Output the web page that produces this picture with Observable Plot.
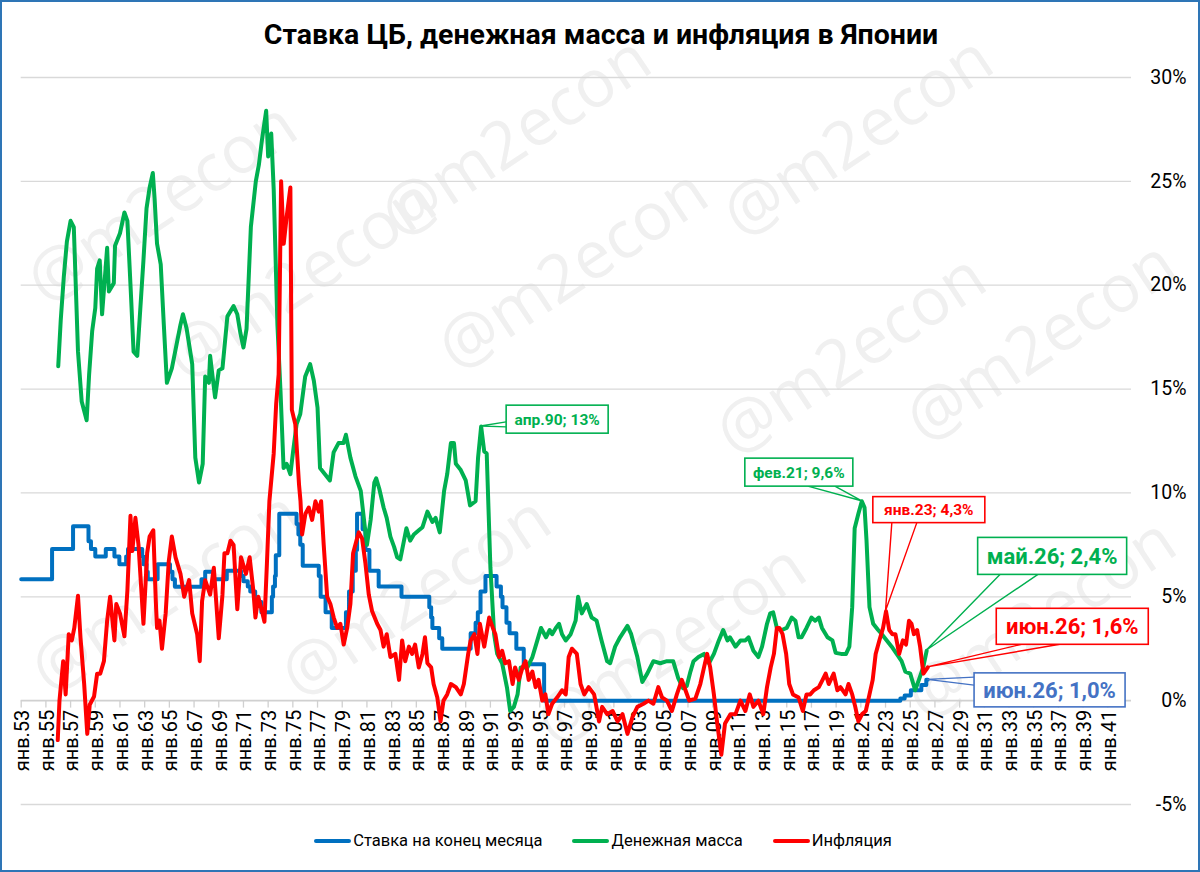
<!DOCTYPE html>
<html>
<head>
<meta charset="utf-8">
<script src="https://cdn.jsdelivr.net/npm/d3@7"></script>
<script src="https://cdn.jsdelivr.net/npm/@observablehq/plot@0.6"></script>
<style>
  html, body { margin: 0; padding: 0; background: #fff; }
  #wrap { position: relative; width: 1200px; height: 872px; background: #fff; overflow: hidden; font-family: Roboto, "Noto Sans", sans-serif; }
  #wm, #chart { position: absolute; left: 0; top: 0; }
  #title { position: absolute; left: 0; top: 18px; width: 1202px; text-align: center; font-weight: 700; font-size: 28.5px; color: #000; }
  #legend { position: absolute; left: 0; top: 831px; width: 1206px; display: flex; justify-content: center; align-items: center; font-size: 16.5px; color: #000; }
  #legend .item { display: flex; align-items: center; margin: 0 15px; }
  #legend .sw { width: 37px; height: 4px; border-radius: 2px; margin-right: 2px; }
  #border { position: absolute; left: 0; top: 0; width: 1200px; height: 872px; box-sizing: border-box; border: 2px solid #2E75B6; pointer-events: none; }
</style>
</head>
<body>
<div id="wrap">
  <svg id="wm" width="1200" height="872"></svg>
  <div id="chart"></div>
  <div id="title">Ставка ЦБ, денежная масса и инфляция в Японии</div>
  <div id="legend">
    <div class="item"><div class="sw" style="background:#0070C0"></div>Ставка на конец месяца</div>
    <div class="item"><div class="sw" style="background:#00B050"></div>Денежная масса</div>
    <div class="item"><div class="sw" style="background:#FF0000"></div>Инфляция</div>
  </div>
  <div id="border"></div>
</div>
<script>
// ---- Data (decimal year, percent) ----
const xTicks = d3.range(1953, 2042, 2);
const yTicks = [-5, 0, 5, 10, 15, 20, 25, 30];

// Central bank rate at month end
const rateSeries = [
  [1953.0,5.84],[1955.5,7.30],[1957.2,8.40],[1958.45,7.67],[1958.65,7.30],[1959.0,6.94],[1959.85,7.30],
  [1960.55,6.94],[1960.95,6.57],[1961.5,6.94],[1961.65,7.30],[1962.8,6.94],[1962.9,6.57],[1963.15,6.21],
  [1963.25,5.84],[1964.05,6.57],[1965.05,6.21],[1965.25,5.84],[1965.45,5.48],[1967.6,5.84],[1967.9,6.21],
  [1968.55,5.84],[1969.65,6.25],[1970.8,6.00],[1971.0,5.75],[1971.35,5.50],[1971.55,5.25],[1971.95,4.75],
  [1972.45,4.25],[1973.3,5.00],[1973.4,5.50],[1973.55,6.00],[1973.62,7.00],[1973.9,9.00],[1975.3,8.50],
  [1975.45,8.00],[1975.6,7.50],[1975.8,6.50],[1977.1,6.00],[1977.25,5.00],[1977.65,4.25],[1978.15,3.50],
  [1979.3,4.25],[1979.55,5.25],[1979.85,6.25],[1980.1,7.25],[1980.2,9.00],[1980.65,8.25],[1980.88,7.25],
  [1981.2,6.25],[1981.95,5.50],[1983.8,5.00],[1986.05,4.50],[1986.2,4.00],[1986.3,3.50],[1986.85,3.00],
  [1987.1,2.50],[1989.4,3.25],[1989.8,3.75],[1989.98,4.25],[1990.2,5.25],[1990.6,6.00],[1991.5,5.50],
  [1991.85,5.00],[1991.98,4.50],[1992.3,3.75],[1992.55,3.25],[1993.1,2.50],[1993.7,1.75],[1995.35,0.0],
  [2024.2,0.10],[2024.55,0.25],[2025.05,0.50],[2025.9,0.75],[2026.3,1.00],[2026.42,1.00]
];

// Money supply growth
const moneySeries = [
  [1956.0,16.1],[1956.2,18.3],[1956.45,20.4],[1956.7,22.1],[1957.0,23.1],[1957.26,22.8],[1957.6,16.8],
  [1957.9,14.4],[1958.3,13.5],[1958.5,15.7],[1958.75,17.8],[1959.0,18.9],[1959.15,20.8],[1959.36,21.2],
  [1959.55,18.6],[1959.96,21.8],[1960.1,19.7],[1960.5,20.1],[1960.6,21.9],[1961.0,22.5],[1961.36,23.5],
  [1961.6,23.1],[1961.9,19.4],[1962.1,16.8],[1962.4,16.6],[1962.9,21.2],[1963.15,23.7],[1963.4,24.7],
  [1963.66,25.4],[1963.8,24.2],[1964.0,22.0],[1964.3,21.0],[1964.55,18.1],[1964.8,15.3],[1965.2,16.0],
  [1965.6,17.2],[1965.9,18.1],[1966.1,18.6],[1966.4,17.9],[1966.85,16.2],[1967.1,11.7],[1967.4,10.5],
  [1967.7,11.4],[1967.9,15.6],[1968.2,15.3],[1968.3,16.6],[1968.7,14.6],[1969.0,15.9],[1969.3,16.0],
  [1969.7,18.5],[1970.2,19.0],[1970.5,18.6],[1970.75,17.7],[1971.0,17.0],[1971.25,17.9],[1971.6,22.8],
  [1972.0,25.0],[1972.25,25.8],[1972.5,27.0],[1972.84,28.4],[1973.0,26.2],[1973.25,27.3],[1973.45,24.6],
  [1973.75,18.1],[1974.0,14.9],[1974.25,11.2],[1974.5,11.4],[1974.8,10.9],[1975.0,11.9],[1975.3,13.3],
  [1975.6,13.8],[1976.0,15.6],[1976.4,16.2],[1976.7,15.4],[1977.0,14.1],[1977.2,11.2],[1977.6,10.9],
  [1978.0,10.6],[1978.3,11.95],[1978.7,12.4],[1979.1,12.4],[1979.3,12.8],[1979.66,11.7],[1980.07,10.8],
  [1980.5,10.1],[1980.8,8.5],[1981.0,7.5],[1981.3,8.7],[1981.6,10.5],[1981.75,10.7],[1982.0,10.2],
  [1982.35,9.3],[1982.6,8.8],[1982.9,7.9],[1983.2,7.4],[1983.45,6.9],[1983.7,6.8],[1984.0,7.7],
  [1984.2,8.3],[1984.5,7.7],[1984.8,8.0],[1985.2,8.2],[1985.5,8.35],[1985.9,9.1],[1986.3,8.6],
  [1986.56,8.8],[1986.9,8.1],[1987.25,10.1],[1987.5,10.9],[1987.8,12.4],[1988.05,12.4],[1988.2,11.4],
  [1988.6,11.1],[1989.0,10.6],[1989.35,9.4],[1989.8,9.6],[1990.0,11.7],[1990.25,13.2],[1990.5,12.0],
  [1990.7,11.9],[1991.0,6.4],[1991.3,3.2],[1991.55,2.25],[1991.95,1.8],[1992.35,0.6],[1992.6,-0.5],
  [1992.9,-0.3],[1993.2,0.3],[1993.45,1.6],[1994.0,1.6],[1994.4,2.1],[1994.8,2.9],[1995.1,3.5],
  [1995.5,3.05],[1995.8,3.4],[1996.0,3.2],[1996.3,3.5],[1996.56,3.7],[1996.8,3.2],[1997.1,2.9],
  [1997.5,3.2],[1997.9,3.85],[1998.1,5.0],[1998.4,4.2],[1998.8,4.65],[1999.2,4.0],[1999.6,3.85],
  [2000.0,2.9],[2000.45,1.9],[2000.7,1.8],[2001.1,2.6],[2001.5,3.05],[2002.1,3.6],[2002.4,3.2],
  [2002.9,2.1],[2003.3,0.9],[2003.7,1.3],[2004.2,1.9],[2004.75,1.8],[2005.3,1.9],[2005.8,1.9],
  [2006.2,1.1],[2006.6,0.6],[2006.9,0.7],[2007.2,1.4],[2007.45,1.9],[2007.85,2.1],[2008.3,2.25],
  [2008.7,1.8],[2009.1,2.25],[2009.5,2.9],[2009.85,3.4],[2010.2,2.9],[2010.4,3.05],[2010.85,2.6],
  [2011.25,2.9],[2011.65,2.9],[2011.9,3.05],[2012.3,2.4],[2012.7,2.1],[2013.0,2.6],[2013.4,3.7],
  [2013.66,4.2],[2013.9,4.25],[2014.2,3.5],[2014.6,3.4],[2015.0,3.5],[2015.4,4.0],[2015.7,3.85],
  [2015.96,3.05],[2016.2,3.05],[2016.6,3.5],[2017.0,4.0],[2017.3,3.85],[2017.6,4.0],[2017.85,3.5],
  [2018.3,3.05],[2018.7,2.9],[2018.96,2.3],[2019.4,2.25],[2019.8,2.25],[2020.07,2.6],[2020.3,4.5],
  [2020.5,8.3],[2020.8,9.0],[2021.08,9.6],[2021.3,9.3],[2021.46,7.7],[2021.7,4.5],[2022.0,3.7],
  [2022.4,3.4],[2022.7,3.2],[2023.1,2.9],[2023.5,2.6],[2023.9,2.25],[2024.3,1.9],[2024.6,1.4],
  [2025.0,1.3],[2025.4,0.5],[2025.7,1.0],[2026.05,1.6],[2026.33,2.4]
];

// Inflation
const inflationSeries = [
  [1955.96,-1.9],[1956.1,0.0],[1956.4,1.9],[1956.6,0.3],[1956.85,3.2],[1957.1,2.9],[1957.3,3.5],
  [1957.6,5.05],[1957.8,3.05],[1958.1,0.8],[1958.35,-1.6],[1958.55,-0.2],[1958.9,0.2],[1959.15,1.3],
  [1959.4,1.3],[1959.7,1.9],[1959.96,3.85],[1960.2,5.0],[1960.55,2.9],[1960.7,4.65],[1961.0,4.2],
  [1961.36,3.1],[1961.6,5.3],[1961.85,8.9],[1962.0,7.2],[1962.25,8.8],[1962.5,7.5],[1962.9,3.7],
  [1963.2,7.1],[1963.4,7.9],[1963.7,8.2],[1963.9,4.8],[1964.0,3.5],[1964.2,3.85],[1964.4,2.5],
  [1964.7,4.2],[1964.95,6.7],[1965.2,7.9],[1965.5,6.9],[1965.9,6.1],[1966.2,5.0],[1966.6,5.8],
  [1966.85,4.2],[1967.25,3.2],[1967.46,1.9],[1967.65,4.8],[1967.9,5.8],[1968.3,5.1],[1968.6,6.4],
  [1969.0,3.0],[1969.3,5.1],[1969.46,7.1],[1969.7,7.1],[1969.95,7.7],[1970.2,7.5],[1970.5,4.4],
  [1970.8,6.9],[1971.2,6.1],[1971.5,6.9],[1971.8,5.3],[1971.97,4.0],[1972.2,5.0],[1972.5,4.3],
  [1972.7,3.8],[1972.9,6.6],[1973.1,9.6],[1973.45,11.9],[1973.65,14.3],[1973.85,15.7],[1974.05,25.0],
  [1974.26,22.0],[1974.5,23.3],[1974.8,24.7],[1974.92,14.0],[1975.2,13.3],[1975.5,10.4],[1975.62,9.6],
  [1975.75,8.0],[1976.02,9.0],[1976.29,9.3],[1976.56,8.7],[1976.83,9.6],[1977.1,9.1],[1977.29,9.6],
  [1977.5,7.5],[1977.78,5.0],[1978.04,4.65],[1978.31,4.0],[1978.59,3.5],[1978.85,3.7],[1979.12,2.7],
  [1979.4,3.5],[1979.66,4.65],[1979.88,7.1],[1980.15,7.7],[1980.34,8.1],[1980.61,7.8],[1980.88,6.6],
  [1981.15,5.1],[1981.42,4.3],[1981.83,3.7],[1982.1,3.4],[1982.35,2.6],[1982.6,3.2],[1982.9,2.1],
  [1983.3,2.25],[1983.6,1.0],[1983.85,2.9],[1984.1,1.9],[1984.4,2.6],[1984.66,2.25],[1984.9,2.7],
  [1985.2,1.6],[1985.5,2.25],[1985.7,3.05],[1985.9,1.8],[1986.2,1.6],[1986.4,0.8],[1986.7,0.15],
  [1986.96,-1.0],[1987.2,0.0],[1987.5,0.3],[1987.8,0.8],[1988.2,0.65],[1988.6,0.3],[1988.85,0.8],
  [1989.2,2.25],[1989.4,2.9],[1989.7,3.2],[1989.95,2.25],[1990.15,3.7],[1990.5,2.6],[1990.9,4.0],
  [1991.2,3.5],[1991.4,3.2],[1991.7,2.1],[1991.95,2.4],[1992.2,1.8],[1992.5,1.9],[1992.8,0.8],
  [1993.0,1.6],[1993.3,1.0],[1993.6,1.6],[1993.85,1.9],[1994.1,1.0],[1994.4,1.4],[1994.66,0.65],
  [1994.9,1.0],[1995.2,0.0],[1995.45,0.3],[1995.7,-0.65],[1996.0,-0.15],[1996.4,0.15],[1996.8,0.5],
  [1997.1,0.3],[1997.34,2.1],[1997.6,2.5],[1998.0,2.25],[1998.3,0.8],[1998.6,0.3],[1998.96,0.65],
  [1999.4,0.3],[1999.8,-1.0],[2000.05,-0.3],[2000.45,-0.65],[2000.9,-0.5],[2001.3,-1.0],[2001.7,-0.65],
  [2002.1,-1.6],[2002.5,-0.8],[2002.9,-0.3],[2003.4,-0.15],[2003.8,0.0],[2004.2,-0.15],[2004.6,0.65],
  [2004.9,0.15],[2005.3,0.0],[2005.7,-0.5],[2006.1,0.3],[2006.5,1.0],[2006.8,0.5],[2007.1,0.0],
  [2007.6,0.1],[2008.0,0.8],[2008.3,1.6],[2008.55,2.25],[2008.8,1.6],[2009.1,0.3],[2009.35,-1.0],
  [2009.7,-2.6],[2010.0,-1.1],[2010.45,-0.65],[2010.85,-0.65],[2011.25,0.0],[2011.65,-0.5],[2012.0,0.3],
  [2012.3,-0.3],[2012.7,0.0],[2013.1,-0.65],[2013.4,0.65],[2013.7,1.6],[2013.96,2.25],[2014.2,3.5],
  [2014.4,3.5],[2014.66,3.2],[2014.95,2.25],[2015.2,0.8],[2015.5,0.3],[2015.96,0.15],[2016.3,-0.5],
  [2016.6,0.3],[2016.9,0.3],[2017.2,0.5],[2017.6,0.65],[2017.9,1.0],[2018.15,1.3],[2018.4,0.8],
  [2018.8,1.3],[2019.1,0.5],[2019.35,0.65],[2019.76,0.3],[2020.0,0.8],[2020.3,0.3],[2020.55,-0.3],
  [2020.8,-1.0],[2021.1,-0.65],[2021.4,-0.5],[2021.7,0.3],[2021.96,1.0],[2022.2,2.25],[2022.5,2.9],
  [2022.8,3.5],[2023.04,4.3],[2023.3,3.4],[2023.56,3.2],[2023.8,3.2],[2024.1,2.25],[2024.4,2.9],
  [2024.66,2.7],[2024.9,3.85],[2025.1,3.7],[2025.3,3.2],[2025.56,3.4],[2025.8,2.6],[2026.07,1.3],
  [2026.42,1.6]
];

// Annotated points
const annotations = [
  {date: 1990.25, value: 13.2, label: "апр.90; 13%", color: "#00B050"},
  {date: 2021.08, value: 9.6, label: "фев.21; 9,6%", color: "#00B050"},
  {date: 2023.04, value: 4.3, label: "янв.23; 4,3%", color: "#FF0000"},
  {date: 2026.33, value: 2.4, label: "май.26; 2,4%", color: "#00B050"},
  {date: 2026.42, value: 1.6, label: "июн.26; 1,6%", color: "#FF0000"},
  {date: 2026.42, value: 1.0, label: "июн.26; 1,0%", color: "#4472C4"}
];
// Layout of callouts (pixel offsets from the point): box centre, size, font, leader ends
const calloutLayout = [
  {dx: 76.5, dy: -6.8, w: 102, h: 28, fs: 15.5, l1: [-51, 2.7], l2: [-51, 7.7]},
  {dx: -62.5, dy: -28.6, w: 108, h: 28, fs: 15.5, l1: [9, 14], l2: [36, 14]},
  {dx: 43.3, dy: -101.2, w: 112, h: 26, fs: 15.5, l1: [-37, 13], l2: [-12, 13]},
  {dx: 126, dy: -94.4, w: 149, h: 37, fs: 22, l1: [-52.2, 18.5], l2: [-14.2, 18.5]},
  {dx: 145, dy: -40.6, w: 152, h: 36, fs: 22, l1: [-50.8, 18], l2: [-12.5, 18]},
  {dx: 122.3, dy: 10.5, w: 151, h: 34, fs: 22, l1: [-75.5, -12.7], l2: [-75.5, -4.7]}
];

const X = d => d[0], Y = d => d[1];
const chart = Plot.plot({
  width: 1200,
  height: 872,
  marginLeft: 20.7,
  marginRight: 69,
  marginTop: 77,
  marginBottom: 68,
  style: {background: "transparent", fontFamily: "Roboto, 'Noto Sans', sans-serif", overflow: "visible"},
  x: {type: "linear", domain: [1953, 2042.92], axis: null},
  y: {domain: [-5, 30], axis: null},
  marks: [
    Plot.ruleY(yTicks.filter(d => d !== 0), {stroke: "#d9d9d9", strokeWidth: 1.3}),
    Plot.ruleY([0], {stroke: "#d0d0d0", strokeWidth: 1.6}),
    Plot.ruleX(xTicks, {x: d => d, y1: 0, y2: -0.36, stroke: "#d0d0d0", strokeWidth: 1.3}),
    Plot.text(xTicks, {x: d => d, y: 0, text: d => "янв." + String(d % 100).padStart(2, "0"),
      rotate: -90, textAnchor: "end", lineAnchor: "middle", dy: 9, dx: 1.5, fontSize: 20, fill: "#000"}),
    Plot.text(yTicks, {y: d => d, text: d => `${d}%`, frameAnchor: "right", textAnchor: "end",
      lineAnchor: "middle", dx: 55, fontSize: 19.5, fill: "#000"}),
    Plot.line(rateSeries, {x: X, y: Y, curve: "step-after", stroke: "#0070C0", strokeWidth: 4, strokeLinejoin: "round"}),
    Plot.line(moneySeries, {x: X, y: Y, stroke: "#00B050", strokeWidth: 4, strokeLinejoin: "round", strokeLinecap: "round"}),
    Plot.line(inflationSeries, {x: X, y: Y, stroke: "#FF0000", strokeWidth: 4, strokeLinejoin: "round", strokeLinecap: "round"})
  ]
});
document.getElementById("chart").appendChild(chart);

// Callouts drawn with the plot's own scales
const sx = chart.scale("x"), sy = chart.scale("y");
const svg = d3.select(chart);
const g = svg.append("g").attr("class", "callouts");
annotations.forEach((a, i) => {
  const L = calloutLayout[i];
  const px = sx.apply(a.date), py = sy.apply(a.value);
  const cx = px + L.dx, cy = py + L.dy;
  g.append("polyline")
    .attr("points", `${cx + L.l1[0]},${cy + L.l1[1]} ${px},${py} ${cx + L.l2[0]},${cy + L.l2[1]}`)
    .attr("fill", "none").attr("stroke", a.color).attr("stroke-width", 1.4);
  g.append("rect")
    .attr("x", cx - L.w / 2).attr("y", cy - L.h / 2).attr("width", L.w).attr("height", L.h)
    .attr("fill", "#fff").attr("stroke", a.color).attr("stroke-width", 1.6);
  g.append("text")
    .attr("x", cx).attr("y", cy).attr("text-anchor", "middle").attr("dy", "0.36em")
    .attr("font-size", L.fs).attr("font-weight", 700).attr("fill", a.color)
    .attr("font-family", "Roboto, 'Noto Sans', sans-serif")
    .text(a.label);
});

// Watermark (kept inside the picture)
const wmSpots = [[457,373],[742,240],[400,240],[46,306],[185,382],[50,695],[300,700],[555,748],[735,458],[925,445],[925,722]];
const wm = d3.select("#wm");
wmSpots.forEach(([x, y]) => {
  wm.append("text").attr("transform", `translate(${x},${y}) rotate(-33.6)`)
    .attr("font-family", "'Open Sans', sans-serif").attr("font-size", 66).attr("fill", "#f0f0f0")
    .text("@m2econ");
});
</script>
</body>
</html>
